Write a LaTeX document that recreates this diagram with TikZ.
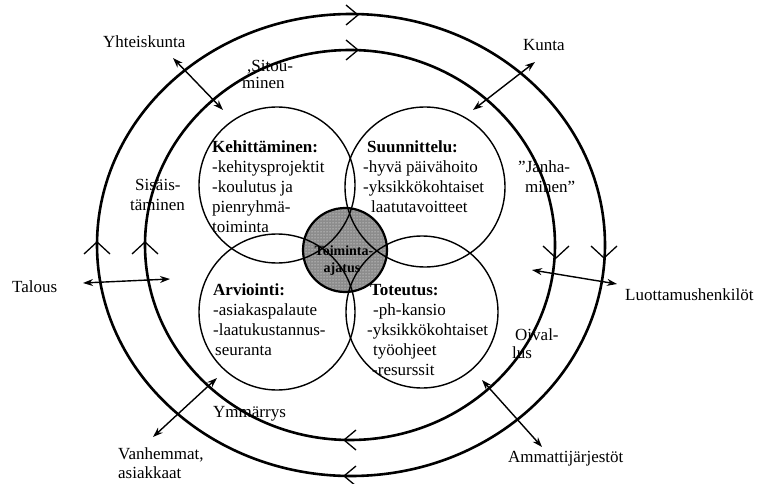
\documentclass[tikz,border=0pt]{standalone}
\usepackage{fontspec}
\setmainfont{Liberation Serif}
\usetikzlibrary{arrows.meta,patterns}
\begin{document}
\begin{tikzpicture}[x=1pt,y=-1pt,
  ring/.style={line width=2.6pt},
  petal/.style={line width=1.4pt},
  chev/.style={line width=1.3pt},
  dbl/.style={line width=1.4pt,{Stealth[length=10pt,width=7pt]}-{Stealth[length=10pt,width=7pt]}},
  lbl/.style={inner sep=0pt,anchor=base west,font=\fontsize{17}{20}\selectfont},
  blk/.style={inner sep=0pt,anchor=north west,align=left,font=\fontsize{17}{20}\selectfont},
  ctr/.style={inner sep=0pt,font=\fontsize{14}{17}\selectfont\bfseries}]
\useasboundingbox (0,0) rectangle (758,484);
% outer rings
\draw[ring] (351,245) ellipse [x radius=254, y radius=231];
\draw[ring] (350,245) ellipse [x radius=205, y radius=195];
% chevrons (clockwise flow)
\draw[chev] (346,5) -- (358,15) -- (346,25);
\draw[chev] (346,40) -- (358,50) -- (346,60);
\draw[chev] (356,466) -- (344,476) -- (356,486);
\draw[chev] (356,430) -- (344,440) -- (356,450);
\draw[chev] (84,254) -- (97,242) -- (110,254);
\draw[chev] (132,254) -- (145,242) -- (158,254);
\draw[chev] (543,246) -- (556,258) -- (569,246);
\draw[chev] (591,246) -- (604,258) -- (617,246);
% central circle fill
\fill[black!45] (345,250) circle [radius=42];
\fill[pattern=dots,pattern color=white] (345,250) circle [radius=42];
% four petals
\draw[petal] (277,185) circle [radius=78];
\draw[petal] (425,187) circle [radius=80];
\draw[petal] (277,312) circle [radius=78];
\draw[petal] (422,312) circle [radius=76];
\draw[line width=2.2pt] (345,250) circle [radius=42];
% center text
\node[ctr] (toim) at (344,251) {Toiminta-};
\node[ctr] (ajat) at (342,269) {ajatus};
% petal texts
\node[blk] (kehi) at (212,138) {\strut\textbf{Kehittäminen:}\\-kehitysprojektit\\-koulutus ja\\pienryhmä-\\toiminta};
\node[blk] (suun) at (363,138) {\strut\hspace*{4pt}\textbf{Suunnittelu:}\\-hyvä päivähoito\\-yksikkökohtaiset\\\hspace*{8pt}laatutavoitteet};
\node[blk] (arvi) at (213,281) {\strut\textbf{Arviointi:}\\-asiakaspalaute\\-laatukustannus-\\\hspace*{2pt}seuranta};
\node[blk] (tote) at (367,281) {\strut\hspace*{3pt}\textbf{Toteutus:}\\\hspace*{6pt}-ph-kansio\\-yksikkökohtaiset\\\hspace*{6pt}työohjeet\\\hspace*{5pt}-resurssit};
% ring texts
\node[lbl] (sit1) at (247,72) {,Sitou-};
\node[lbl] (sit2) at (242,89) {minen};
\node[lbl] (sis1) at (135,190) {Sisäis-};
\node[lbl] (sis2) at (130,211) {täminen};
\node[lbl] (jan1) at (518,173) {”Janha-};
\node[lbl] (jan2) at (525,193) {minen”};
\node[lbl] (oiv1) at (515,340) {Oival-};
\node[lbl] (oiv2) at (512,358) {lus};
\node[lbl] (ymm) at (213,417) {Ymmärrys};
% outside labels
\node[lbl] (yht) at (103,48) {Yhteiskunta};
\node[lbl] (kun) at (523,51) {Kunta};
\node[lbl] (tal) at (12,292) {Talous};
\node[lbl] (luo) at (625,300) {Luottamushenkilöt};
\node[lbl] (van1) at (118,459) {Vanhemmat,};
\node[lbl] (van2) at (118,478) {asiakkaat};
\node[lbl] (amm) at (508,462) {Ammattijärjestöt};
% arrow ends
\coordinate (yA) at (173,58); \coordinate (yB) at (223,110);
\coordinate (kA) at (535,62); \coordinate (kB) at (473,110);
\coordinate (tA) at (83,283); \coordinate (tB) at (170,279);
\coordinate (lA) at (532,270); \coordinate (lB) at (617,284);
\coordinate (vA) at (217,378); \coordinate (vB) at (153,437);
\coordinate (aA) at (482,380); \coordinate (aB) at (542,447);
\draw[dbl] (yA) -- (yB);
\draw[dbl] (kA) -- (kB);
\draw[dbl] (tA) -- (tB);
\draw[dbl] (lA) -- (lB);
\draw[dbl] (vA) -- (vB);
\draw[dbl] (aA) -- (aB);
\end{tikzpicture}
\end{document}
